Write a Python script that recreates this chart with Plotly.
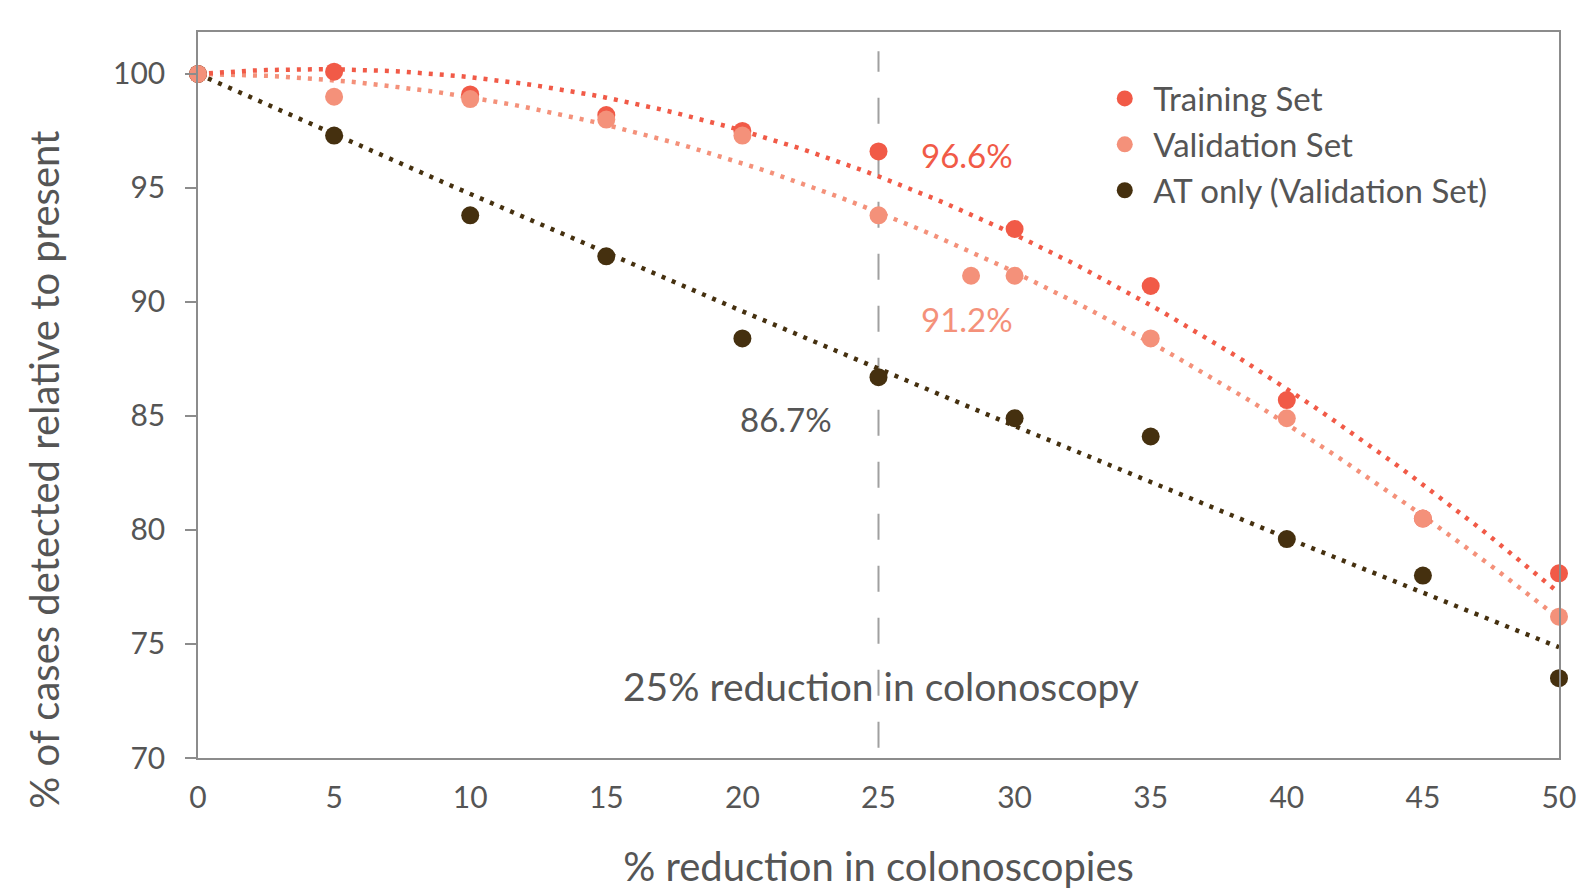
import numpy as np
import plotly.graph_objects as go

# ---- data ----
train_x = [0, 5, 10, 15, 20, 25, 30, 35, 40, 45, 50]
train_y = [100, 100.1, 99.1, 98.2, 97.5, 96.6, 93.2, 90.7, 85.7, 80.5, 78.1]

valid_x = [0, 5, 10, 15, 20, 25, 28.4, 30, 35, 40, 45, 50]
valid_y = [100, 99.0, 98.9, 98.0, 97.3, 93.8, 91.15, 91.15, 88.4, 84.9, 80.5, 76.2]

at_x = [0, 5, 10, 15, 20, 25, 30, 35, 40, 45, 50]
at_y = [100, 97.3, 93.8, 92.0, 88.4, 86.7, 84.9, 84.1, 79.6, 78.0, 73.5]

x_ticks = [0, 5, 10, 15, 20, 25, 30, 35, 40, 45, 50]
y_ticks = [70, 75, 80, 85, 90, 95, 100]

BASELINE = 100  # trendline intercept fixed at 100% (present)

RED = "#F15A47"
PINK = "#F4917A"
DARK = "#45300F"
GREY_TXT = "#555555"
AXIS = "#8c8c8c"
FONT = "Lato"


def trend(xv, yv, xs):
    """Order-2 polynomial trendline with intercept fixed at BASELINE."""
    x = np.asarray(xv, float)
    y = np.asarray(yv, float) - BASELINE
    A = np.column_stack([x, x ** 2])
    (b, c), *_ = np.linalg.lstsq(A, y, rcond=None)
    return BASELINE + b * xs + c * xs ** 2


fig = go.Figure()

xs = np.linspace(0, 50, 101)
for xv, yv, col in [(at_x, at_y, DARK), (valid_x, valid_y, PINK), (train_x, train_y, RED)]:
    fig.add_trace(go.Scatter(x=xs, y=trend(xv, yv, xs), mode="lines",
                             line=dict(color=col, width=4.5, dash="4px,7px"),
                             showlegend=False, hoverinfo="skip"))

fig.add_trace(go.Scatter(x=train_x, y=train_y, mode="markers", name="Training Set",
                         marker=dict(color=RED, size=18), legendrank=1, cliponaxis=False))
fig.add_trace(go.Scatter(x=at_x, y=at_y, mode="markers", name="AT only (Validation Set)",
                         marker=dict(color=DARK, size=18), legendrank=3, cliponaxis=False))
fig.add_trace(go.Scatter(x=valid_x, y=valid_y, mode="markers", name="Validation Set",
                         marker=dict(color=PINK, size=18), legendrank=2, cliponaxis=False))

# vertical dashed reference line at 25%
fig.add_shape(type="line", x0=25, x1=25, y0=70.45, y1=101.0, xref="x", yref="y",
              line=dict(color="#a0a0a0", width=2, dash="26px,26px"), layer="below")

fig.add_annotation(x=28.26, y=96.46, text="96.6%", showarrow=False,
                   font=dict(family=FONT, size=33, color=RED))
fig.add_annotation(x=28.26, y=89.26, text="91.2%", showarrow=False,
                   font=dict(family=FONT, size=33, color=PINK))
fig.add_annotation(x=21.61, y=84.87, text="86.7%", showarrow=False,
                   font=dict(family=FONT, size=33, color=GREY_TXT))
fig.add_annotation(x=25.1, y=73.17, text="25% reduction in colonoscopy", showarrow=False,
                   font=dict(family=FONT, size=39, color=GREY_TXT))

# y-axis title (sits below the plot's vertical centre in the reference)
fig.add_annotation(x=-0.1132, y=0.397, xref="paper", yref="paper", xanchor="center",
                   yanchor="middle", textangle=-90, showarrow=False,
                   text="% of cases detected relative to present",
                   font=dict(family=FONT, size=40, color=GREY_TXT))

fig.update_layout(
    width=1578, height=890,
    margin=dict(l=198, r=19, t=32, b=132),
    paper_bgcolor="white", plot_bgcolor="white",
    font=dict(family=FONT, color=GREY_TXT, size=30),
    legend=dict(x=0.66, y=0.947, xanchor="left", yanchor="top",
                font=dict(family=FONT, size=33, color=GREY_TXT),
                bgcolor="rgba(0,0,0,0)", itemwidth=47),
    xaxis=dict(range=[0, 50], tickvals=x_ticks, ticks="", showgrid=False, zeroline=False,
               showline=True, linecolor=AXIS, linewidth=1.5, mirror=True, automargin=False,
               tickfont=dict(family=FONT, size=30, color=GREY_TXT), ticklabelstandoff=12,
               title=dict(text="% reduction in colonoscopies", standoff=44,
                          font=dict(family=FONT, size=40, color=GREY_TXT))),
    yaxis=dict(range=[70, 101.84], tickvals=y_ticks, ticks="outside", ticklen=11,
               tickcolor=AXIS, tickwidth=1.5, showgrid=False, zeroline=False,
               showline=True, linecolor=AXIS, linewidth=1.5, mirror=True, automargin=False,
               tickfont=dict(family=FONT, size=30, color=GREY_TXT), ticklabelstandoff=14),
)

# let the 1578x890 figure fill the window exactly (no default body margin)
fig.write_html("out.html", config={"displayModeBar": False},
               post_script="document.body.style.margin='0';document.body.style.overflow='hidden';")
